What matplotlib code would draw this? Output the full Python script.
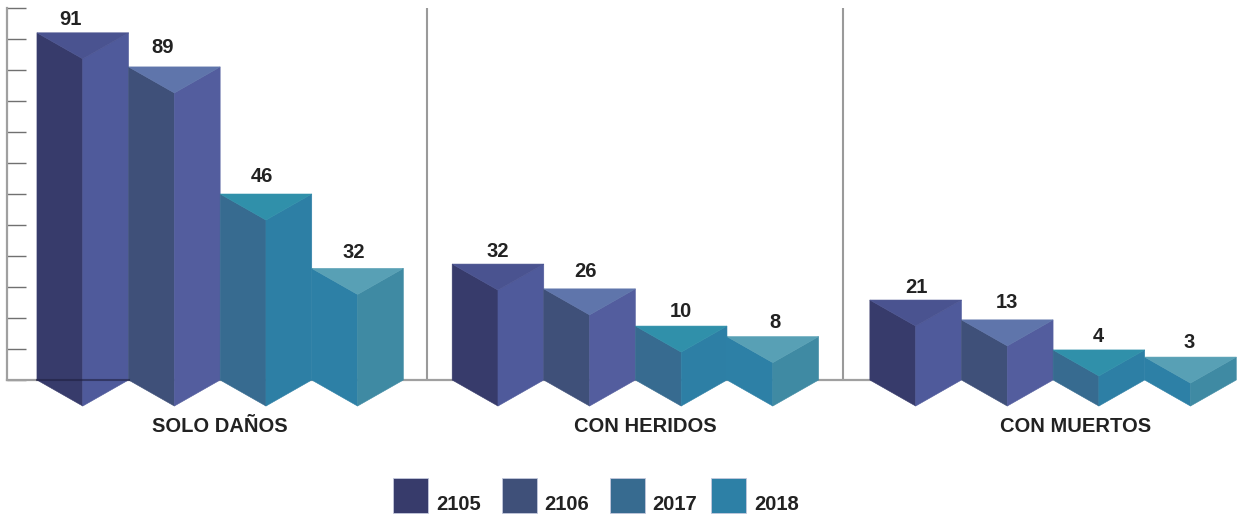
import matplotlib
matplotlib.use("Agg")
import matplotlib.pyplot as plt
from matplotlib.patches import Polygon, Rectangle

plt.rcParams['font.family'] = ['Liberation Sans', 'DejaVu Sans']

# data
categories = ["SOLO DAÑOS", "CON HERIDOS", "CON MUERTOS"]
years = ["2105", "2106", "2017", "2018"]
# printed labels
values = [[91, 89, 46, 32], [32, 26, 10, 8], [21, 13, 4, 3]]
# heights as drawn (the picture is not to scale with its labels), read against the axis ticks
drawn = [[112, 101, 60, 36], [37.4, 29.4, 17.4, 14], [25.8, 19.4, 9.7, 7.4]]

# left face, right face, top face per year
left_cols = ["#373b6b", "#3f5079", "#376b90", "#2d80a6"]
right_cols = ["#4f5a9b", "#535d9e", "#2d7fa5", "#3f8aa3"]
top_cols = ["#4a5390", "#5f75ab", "#3090aa", "#58a0b5"]

W, H = 1239, 519
fig = plt.figure(figsize=(W / 100, H / 100), dpi=100)
ax = fig.add_axes([7 / W, (H - 380) / H, (W - 7) / W, 372 / H])
ax.set_xlim(0, (W - 7) / 91.6)
ax.set_ylim(0, 120)

group_x = [0.327, 4.86, 9.42]
depth = 8.4

# label nudges in pixels (dx, dy)
nudge = [[(-12, 13), (-12, 19), (-4, 17), (-4, 16)],
         [(0, 13), (-4, 17), (0, 15), (2, 14)],
         [(1, 13), (0, 17), (-1, 13), (-1, 15)]]

for g, start in enumerate(group_x):
    for i in range(4):
        x0 = start + i
        xm = x0 + 0.5
        x1 = x0 + 1
        h = drawn[g][i]
        faces = [
            ([(x0, h), (xm, h - depth), (xm, -depth), (x0, 0)], left_cols[i]),
            ([(xm, h - depth), (x1, h), (x1, 0), (xm, -depth)], right_cols[i]),
            ([(x0, h), (x1, h), (xm, h - depth)], top_cols[i]),
        ]
        for pts, col in faces:
            ax.add_patch(Polygon(pts, closed=True, facecolor=col, edgecolor=col,
                                 linewidth=0.4, zorder=3, clip_on=False))
        dx, dy = nudge[g][i]
        ax.annotate(str(values[g][i]), (xm, h), xytext=(dx, dy), textcoords='offset pixels',
                    ha='center', va='center', fontsize=14.5, fontweight='bold',
                    color='#222222', zorder=5, annotation_clip=False)

# axis shows through the first bar
ax.plot([group_x[0], group_x[0] + 1], [0, 0], color='#1f2040', alpha=0.6, lw=1.5,
        zorder=4, clip_on=False)

# dividers
for xd in [4.58, 9.127]:
    ax.plot([xd, xd], [0, 120], color='#9a9a9a', lw=1.5, zorder=2)

for side in ['top', 'right']:
    ax.spines[side].set_visible(False)
for side in ['left', 'bottom']:
    ax.spines[side].set_color('#a0a0a0')
    ax.spines[side].set_linewidth(1.6)
ax.spines['bottom'].set_bounds(0, group_x[2] + 0.1)

ax.set_yticks(range(0, 121, 10))
ax.set_yticklabels([])
ax.tick_params(axis='y', direction='in', length=14, width=1.0, color='#707070')
ax.set_xticks([2.325, 6.965, 11.67])
ax.set_xticklabels(categories, fontsize=14.5, fontweight='bold', color='#222222')
ax.tick_params(axis='x', length=0, pad=27)

# legend, placed by hand
leg_box = [393, 502, 610, 711]
leg_txt = [436, 544, 652, 754]
for i in range(4):
    fig.add_artist(Rectangle((leg_box[i] / W, (H - 513) / H), 35 / W, 35 / H,
                             transform=fig.transFigure, facecolor=left_cols[i],
                             edgecolor='#c3c8dc', linewidth=0.6))
    fig.text(leg_txt[i] / W, (H - 514) / H, years[i], fontsize=14.5, fontweight='bold',
             color='#222222', ha='left', va='bottom')

fig.savefig("out.png", dpi=100)
